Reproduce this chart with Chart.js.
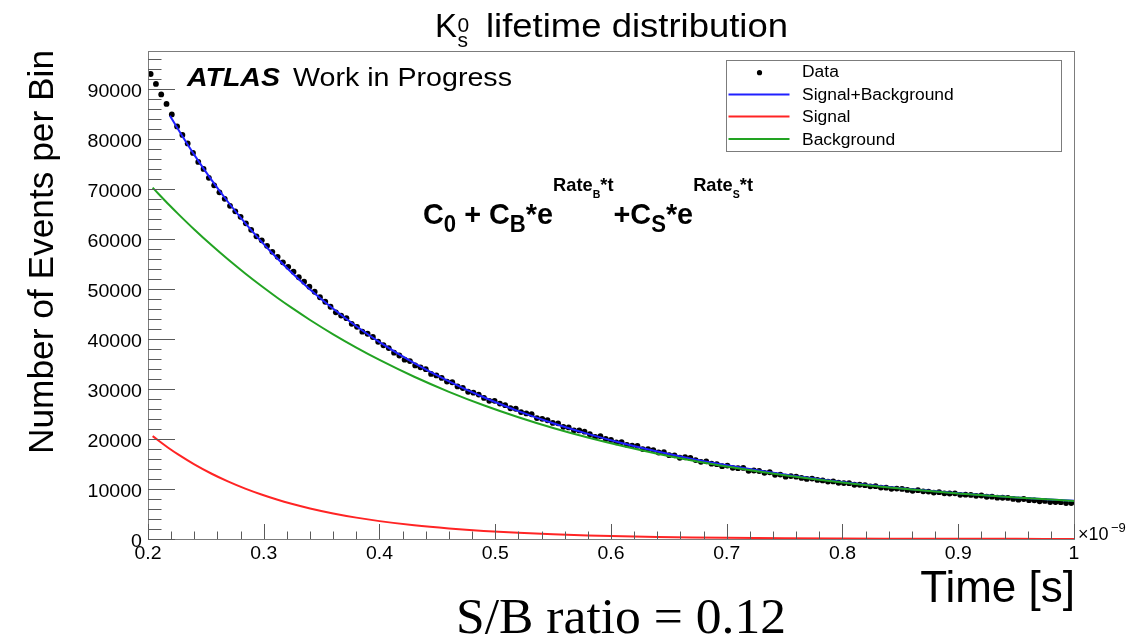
<!DOCTYPE html>
<html>
<head>
<meta charset="utf-8">
<title>K0s lifetime distribution</title>
<script src="https://cdn.jsdelivr.net/npm/chart.js@4.4.1/dist/chart.umd.min.js"></script>
<style>
  html, body { margin: 0; padding: 0; background: #fff; }
  canvas { display: block; }
</style>
</head>
<body>
<canvas id="lifetimeChart" width="1137" height="641"></canvas>
<script>
'use strict';

const xTicks = [0.2, 0.3, 0.4, 0.5, 0.6, 0.7, 0.8, 0.9, 1.0];
const xTickLabels = ['0.2', '0.3', '0.4', '0.5', '0.6', '0.7', '0.8', '0.9', '1'];
const yTicks = [0, 10000, 20000, 30000, 40000, 50000, 60000, 70000, 80000, 90000];
const yTop = 97700;

// histogram contents, 175 equal bins from 0.2 to 1.0 (x 1e-9 s)
const dataCounts = [
    93100, 91100, 89000, 87100, 85000, 82600, 80900, 79200, 77300, 75500,
    74100, 72300, 70800, 69400, 68100, 66700, 65600, 64500, 63200, 61900,
    60600, 59800, 58700, 57500, 56500, 55400, 54500, 53500, 52400, 51500,
    50500, 49500, 48400, 47500, 46500, 45380, 44730, 44220, 43070, 42480,
    41500, 41090, 40440, 39490, 38790, 38230, 37300, 36740, 35900, 35620,
    34750, 34370, 33990, 33050, 32740, 32250, 31510, 31380, 30540, 30230,
    29480, 29300, 28920, 28250, 27670, 27660, 27110, 26800, 26180, 26080,
    25410, 25140, 24980, 24200, 24060, 23770, 23230, 23160, 22460, 22330,
    21750, 21740, 21490, 20970, 20440, 20590, 20020, 19830, 19350, 19400,
    18850, 18700, 18660, 18010, 18000, 17810, 17320, 17370, 16790, 16760,
    16270, 16370, 16230, 15800, 15460, 15550, 15080, 14980, 14580, 14710,
    14250, 14180, 14220, 13650, 13710, 13610, 13240, 13360, 12850, 12890,
    12470, 12590, 12470, 12220, 12020, 12100, 11820, 11730, 11500, 11530,
    11260, 11190, 11180, 10860, 10860, 10770, 10550, 10580, 10300, 10280,
    10050, 10100, 10030, 9820, 9650, 9780, 9550, 9500, 9300, 9370,
    9140, 9110, 9140, 8850, 8880, 8830, 8650, 8710, 8460, 8480,
    8280, 8260, 8220, 8020, 7880, 8010, 7780, 7750, 7560, 7630,
    7410, 7390, 7370, 7200, 7190
];
const binLow = 0.2;
const binHigh = 1.0;

// fit components
const compTime = [0.204, 0.219, 0.226, 0.240, 0.255, 0.269, 0.284, 0.298, 0.312, 0.324,
    0.340, 0.360, 0.380, 0.400, 0.430, 0.460, 0.490, 0.520, 0.550, 0.580,
    0.610, 0.640, 0.670, 0.700, 0.750, 0.800, 0.850, 0.900, 0.950, 1.000];
const backgroundFit = [70350, 66710, 65090, 61960, 58790, 55990, 53150, 50640, 48250, 46310,
    43850, 40980, 38320, 35850, 32480, 29470, 26780, 24380, 22230, 20320,
    18610, 17080, 15720, 14500, 12760, 11310, 10120, 9120, 8300, 7620];
const signalFit = [20600, 18020, 16930, 14940, 13060, 11530, 10080, 8900, 7850, 7060,
    6120, 5120, 4280, 3580, 2740, 2100, 1600, 1230, 940, 720,
    550, 420, 320, 245, 157, 100, 64, 41, 26, 17];
const sumTime = [0.219, 0.226, 0.240, 0.255, 0.269, 0.284, 0.298, 0.312, 0.324, 0.340,
    0.360, 0.380, 0.400, 0.430, 0.460, 0.490, 0.520, 0.550, 0.580, 0.610,
    0.640, 0.670, 0.700, 0.750, 0.800, 0.850, 0.900, 0.950, 1.000];
const sumFit = [84730, 82020, 76900, 71850, 67520, 63230, 59540, 56100, 53370, 49970,
    46100, 42600, 39430, 35220, 31570, 28380, 25610, 23170, 21040, 19160,
    17500, 16040, 14745, 12917, 11410, 10184, 9161, 8326, 7637];

const SANS = '"Liberation Sans", Arial, Helvetica, sans-serif';
const SERIF = '"Liberation Serif", "Times New Roman", serif';
const COLORS = { sum: '#2020ff', signal: '#ff2424', background: '#22a322', data: '#000000' };

function pts(xs, ys) {
    return ys.map(function (y, i) { return { x: xs[i], y: y }; });
}

function fnt(size, style) {
    return (style ? style + ' ' : '') + size + 'px ' + SANS;
}

// text drawn with a horizontal stretch sx, anchored left / right / center
function sText(ctx, text, x, y, sx, align) {
    const w = ctx.measureText(text).width * sx;
    let left = x;
    if (align === 'right') left = x - w;
    else if (align === 'center') left = x - w / 2;
    ctx.save();
    ctx.textAlign = 'left';
    ctx.translate(left, y);
    ctx.scale(sx, 1);
    ctx.fillText(text, 0, 0);
    ctx.restore();
}

// text squeezed/stretched to a given width
function fitText(ctx, text, x, y, width) {
    sText(ctx, text, x, y, width / ctx.measureText(text).width, 'left');
}

// runs of text with size and vertical offsets (sub/superscripts)
function drawRuns(ctx, runs, x, y, style, width) {
    let total = 0;
    runs.forEach(function (r) { ctx.font = fnt(r.s, style); total += ctx.measureText(r.t).width; });
    ctx.save();
    ctx.translate(x, y);
    ctx.scale(width ? width / total : 1, 1);
    let cx = 0;
    runs.forEach(function (r) {
        ctx.font = fnt(r.s, style);
        ctx.fillText(r.t, cx, r.dy || 0);
        cx += ctx.measureText(r.t).width;
    });
    ctx.restore();
}

const dataPoints = dataCounts.map(function (c, i) {
    const w = (binHigh - binLow) / dataCounts.length;
    return { x: binLow + (i + 0.5) * w, y: c };
});

const rootFrame = {
    id: 'rootFrame',
    beforeDraw(chart) {
        const ctx = chart.ctx;
        ctx.save();
        ctx.fillStyle = '#fff';
        ctx.fillRect(0, 0, chart.width, chart.height);
        ctx.restore();
    },
    afterDraw(chart) {
        const ctx = chart.ctx;
        const a = chart.chartArea;
        const xs = chart.scales.x;
        const ys = chart.scales.y;
        ctx.save();

        // frame
        ctx.strokeStyle = '#7c7c7c';
        ctx.lineWidth = 1;
        ctx.strokeRect(Math.round(a.left) + 0.5, Math.round(a.top) + 0.5,
            Math.round(a.right - a.left), Math.round(a.bottom - a.top));

        // ticks
        ctx.strokeStyle = '#5a5a5a';
        ctx.beginPath();
        const yStep = (yTicks[1] - yTicks[0]) / 5;
        for (let k = 0; k * yStep <= ys.max; k++) {
            const y = Math.round(ys.getPixelForValue(k * yStep)) + 0.5;
            ctx.moveTo(a.left, y);
            ctx.lineTo(a.left + (k % 5 === 0 ? 27 : 13.5), y);
        }
        const xStep = (xTicks[1] - xTicks[0]) / 5;
        const nX = Math.round((xs.max - xs.min) / xStep);
        for (let k = 0; k <= nX; k++) {
            const x = Math.round(xs.getPixelForValue(xs.min + k * xStep)) + 0.5;
            ctx.moveTo(x, a.bottom);
            ctx.lineTo(x, a.bottom - (k % 5 === 0 ? 15 : 7.5));
        }
        ctx.stroke();

        // tick labels
        ctx.fillStyle = '#000';
        ctx.font = fnt(18.5);
        ctx.textBaseline = 'alphabetic';
        yTicks.forEach(function (v) {
            sText(ctx, String(v), a.left - 6, ys.getPixelForValue(v) + 7.5, 1.06, 'right');
        });
        xTicks.forEach(function (v, i) {
            sText(ctx, xTickLabels[i], xs.getPixelForValue(v), a.bottom + 20, 1.05, 'center');
        });

        // exponent of the time axis
        ctx.textAlign = 'left';
        ctx.font = fnt(18);
        ctx.fillText('\u00d710', a.right + 4, a.bottom + 1);
        ctx.font = fnt(13);
        ctx.fillText('\u22129', a.right + 37, a.bottom - 7.5);

        // axis titles
        ctx.font = fnt(44);
        sText(ctx, 'Time [s]', a.right + 1, 601.5, 1.0, 'right');

        ctx.save();
        ctx.translate(53, 252);
        ctx.rotate(-Math.PI / 2);
        ctx.font = fnt(35);
        fitText(ctx, 'Number of Events per Bin', -202, 0, 404);
        ctx.restore();

        // title K0s lifetime distribution
        ctx.textAlign = 'left';
        ctx.font = fnt(33);
        ctx.fillText('K', 435, 37);
        ctx.font = fnt(21);
        ctx.fillText('0', 457.5, 32);
        ctx.fillText('s', 457.5, 46.5);
        ctx.font = fnt(33);
        fitText(ctx, 'lifetime distribution', 486, 37, 302);

        // ATLAS label
        ctx.font = fnt(26, 'italic bold');
        fitText(ctx, 'ATLAS', 187, 86, 93);
        ctx.font = fnt(26);
        fitText(ctx, 'Work in Progress', 293, 86, 219);

        // fit function
        drawRuns(ctx, [
            { t: 'C', s: 30 }, { t: '0', s: 23, dy: 8 }, { t: ' + ', s: 30 },
            { t: 'C', s: 30 }, { t: 'B', s: 23, dy: 8 }, { t: '*e', s: 30 },
            { t: 'Rate', s: 19, dy: -33 }, { t: 'B', s: 11, dy: -25.5 }, { t: '*t', s: 19, dy: -33 },
            { t: '+C', s: 30 }, { t: 'S', s: 23, dy: 8 }, { t: '*e', s: 30 },
            { t: 'Rate', s: 19, dy: -33 }, { t: 'S', s: 11, dy: -25.5 }, { t: '*t', s: 19, dy: -33 }
        ], 423, 223.5, 'bold', 330);

        // legend
        ctx.fillStyle = '#fff';
        ctx.fillRect(726, 60, 336, 92);
        ctx.strokeStyle = '#7c7c7c';
        ctx.lineWidth = 1;
        ctx.strokeRect(726.5, 60.5, 335, 91);
        const rows = [
            { label: 'Data', y: 76.7, marker: true },
            { label: 'Signal+Background', y: 100, color: COLORS.sum },
            { label: 'Signal', y: 122, color: COLORS.signal },
            { label: 'Background', y: 144.5, color: COLORS.background }
        ];
        ctx.font = fnt(16);
        rows.forEach(function (r) {
            const cy = r.y - 5.5;
            if (r.marker) {
                ctx.fillStyle = '#000';
                ctx.beginPath();
                ctx.arc(759.5, cy + 1.5, 2.6, 0, Math.PI * 2);
                ctx.fill();
            } else {
                ctx.strokeStyle = r.color;
                ctx.lineWidth = 2;
                ctx.beginPath();
                ctx.moveTo(728.5, cy);
                ctx.lineTo(789.5, cy);
                ctx.stroke();
            }
            ctx.fillStyle = '#000';
            sText(ctx, r.label, 802, r.y, 1.09, 'left');
        });

        // S/B ratio below the plot
        ctx.font = '50px ' + SERIF;
        fitText(ctx, 'S/B ratio = 0.12', 456, 633, 330);

        ctx.restore();
    }
};

new Chart(document.getElementById('lifetimeChart'), {
    type: 'line',
    data: {
        datasets: [
            {
                label: 'Data',
                data: dataPoints,
                showLine: false,
                pointRadius: 2.9,
                pointBorderWidth: 0,
                pointBackgroundColor: COLORS.data,
                order: 3,
            },
            {
                label: 'Signal+Background',
                data: pts(sumTime, sumFit),
                borderColor: COLORS.sum,
                borderWidth: 2,
                pointRadius: 0,
                cubicInterpolationMode: 'monotone',
                order: 2,
            },
            {
                label: 'Signal',
                data: pts(compTime, signalFit),
                borderColor: COLORS.signal,
                borderWidth: 2,
                pointRadius: 0,
                cubicInterpolationMode: 'monotone',
                order: 0,
            },
            {
                label: 'Background',
                data: pts(compTime, backgroundFit),
                borderColor: COLORS.background,
                borderWidth: 2,
                pointRadius: 0,
                cubicInterpolationMode: 'monotone',
                order: 1,
            },
        ],
    },
    options: {
        responsive: false,
        devicePixelRatio: 1,
        animation: false,
        layout: { padding: { left: 148, right: 63, top: 51, bottom: 102 } },
        scales: {
            x: { type: 'linear', display: false, min: xTicks[0], max: xTicks[xTicks.length - 1] },
            y: { type: 'linear', display: false, min: 0, max: yTop },
        },
        plugins: {
            legend: { display: false },
            tooltip: { enabled: false },
            title: { display: false },
        },
    },
    plugins: [rootFrame],
});
</script>
</body>
</html>
